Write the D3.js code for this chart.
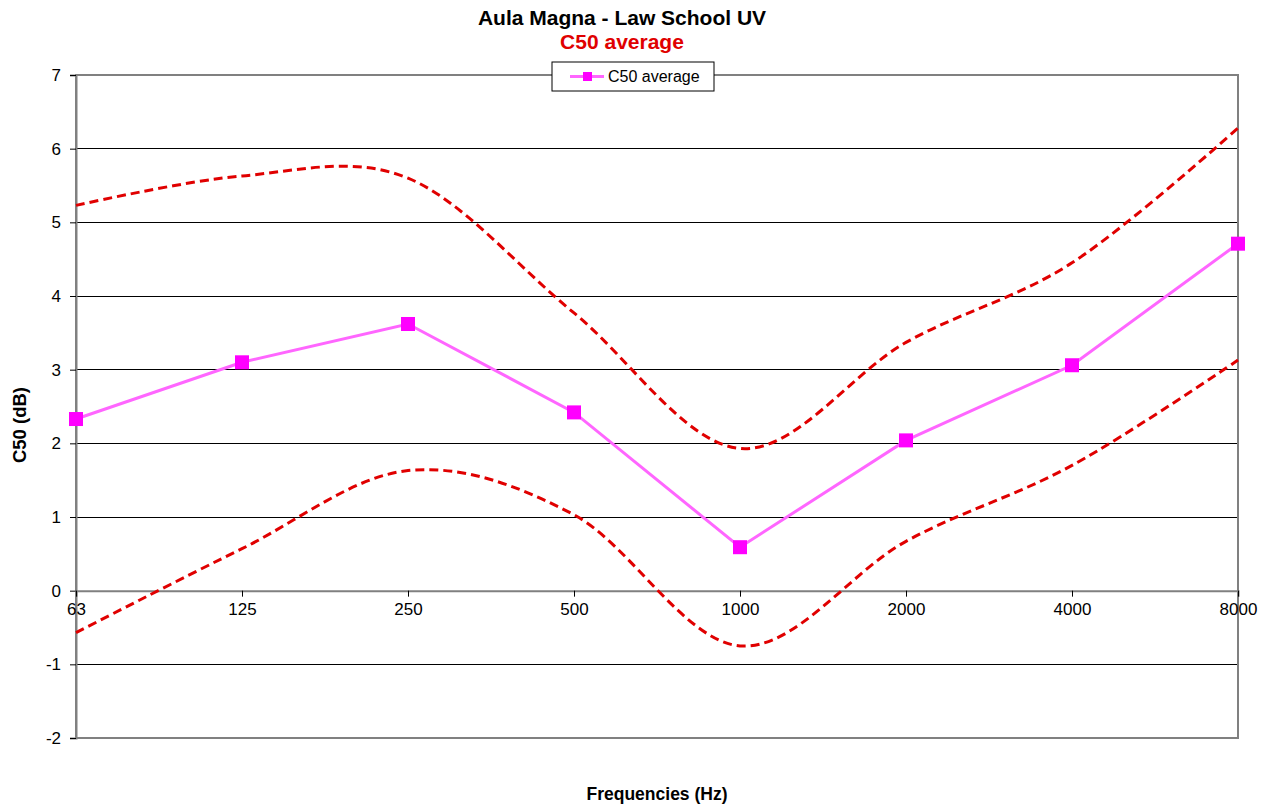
<!DOCTYPE html>
<html>
<head>
<meta charset="utf-8">
<script src="https://cdn.jsdelivr.net/npm/d3@7"></script>
<style>
  html, body { margin: 0; padding: 0; background: #fff; }
  svg { display: block; font-family: "Liberation Sans", Arial, sans-serif; }
</style>
</head>
<body>
<svg id="chart" width="1273" height="805"></svg>
<script>
// Octave-band centre frequencies
const frequencies = ["63", "125", "250", "500", "1000", "2000", "4000", "8000"];
// Mean C50 per band (dB)
const c50Average = [2.33, 3.10, 3.62, 2.42, 0.59, 2.04, 3.06, 4.71];
// Upper and lower limits of the band around the mean (dB)
const upperLimit = [5.23, 5.63, 5.60, 3.77, 1.93, 3.37, 4.45, 6.28];
const lowerLimit = [-0.57, 0.57, 1.63, 1.03, -0.75, 0.67, 1.70, 3.13];
// Y axis tick values
const yTicks = [-2, -1, 0, 1, 2, 3, 4, 5, 6, 7];

const svg = d3.select("#chart");
const plot = { left: 76, right: 1238, top: 75, bottom: 738 };
const FONT = "Liberation Sans, Arial, sans-serif";

const x = d3.scalePoint().domain(frequencies).range([plot.left, plot.right]);
const y = d3.scaleLinear().domain([-2, 7]).range([plot.bottom, plot.top]);

// Horizontal gridlines
svg.append("g")
  .selectAll("line")
  .data(yTicks.filter(v => v !== -2 && v !== 7 && v !== 0))
  .join("line")
  .attr("x1", plot.left).attr("x2", plot.right)
  .attr("y1", d => y(d)).attr("y2", d => y(d))
  .attr("stroke", "#000").attr("stroke-width", 1)
  .attr("shape-rendering", "crispEdges");

// Plot frame
svg.append("rect")
  .attr("x", plot.left).attr("y", plot.top)
  .attr("width", plot.right - plot.left).attr("height", plot.bottom - plot.top)
  .attr("fill", "none").attr("stroke", "#808080").attr("stroke-width", 2);

// Y axis
const yAxis = d3.axisLeft(y).tickValues(yTicks).tickSize(6).tickPadding(9)
  .tickFormat(d => String(d));
svg.append("g")
  .attr("transform", `translate(${plot.left},0)`)
  .call(yAxis)
  .call(g => g.attr("font-size", 17).attr("font-family", FONT))
  .call(g => g.select(".domain").attr("stroke", "#808080").attr("stroke-width", 2))
  .call(g => g.selectAll(".tick line").attr("stroke", "#000"))
  .call(g => g.selectAll(".tick text").attr("fill", "#000"));

// X axis sits on the zero line
const xAxis = d3.axisBottom(x).tickSize(6).tickPadding(6);
svg.append("g")
  .attr("transform", `translate(0,${y(0)})`)
  .call(xAxis)
  .call(g => g.attr("font-size", 17).attr("font-family", FONT))
  .call(g => g.select(".domain").attr("stroke", "#808080").attr("stroke-width", 2))
  .call(g => g.selectAll(".tick line").attr("stroke", "#000"))
  .call(g => g.selectAll(".tick text").attr("fill", "#000"));

// Smoothed dashed limit curves
const smooth = d3.line()
  .x((d, i) => x(frequencies[i]))
  .y(d => y(d))
  .curve(d3.curveCardinal.tension(0));

[upperLimit, lowerLimit].forEach(series => {
  svg.append("path")
    .datum(series)
    .attr("d", smooth)
    .attr("fill", "none")
    .attr("stroke", "#e00000")
    .attr("stroke-width", 3)
    .attr("stroke-dasharray", "9,5");
});

// Mean line with square markers
const straight = d3.line()
  .x((d, i) => x(frequencies[i]))
  .y(d => y(d));

svg.append("path")
  .datum(c50Average)
  .attr("d", straight)
  .attr("fill", "none")
  .attr("stroke", "#ff66ff")
  .attr("stroke-width", 3);

const m = 14;
svg.append("g")
  .selectAll("rect")
  .data(c50Average)
  .join("rect")
  .attr("x", (d, i) => x(frequencies[i]) - m / 2)
  .attr("y", d => y(d) - m / 2)
  .attr("width", m).attr("height", m)
  .attr("fill", "#ff00ff");

// Titles
svg.append("text")
  .attr("x", 622).attr("y", 25)
  .attr("text-anchor", "middle")
  .attr("font-size", 21).attr("font-weight", "bold").attr("fill", "#000")
  .text("Aula Magna - Law School UV");
svg.append("text")
  .attr("x", 622).attr("y", 49)
  .attr("text-anchor", "middle")
  .attr("font-size", 21).attr("font-weight", "bold").attr("fill", "#e00000")
  .text("C50 average");

// Axis titles
svg.append("text")
  .attr("x", 657).attr("y", 800)
  .attr("text-anchor", "middle")
  .attr("font-size", 17.5).attr("font-weight", "bold").attr("fill", "#000")
  .text("Frequencies (Hz)");
svg.append("text")
  .attr("transform", "translate(26,425) rotate(-90)")
  .attr("text-anchor", "middle")
  .attr("font-size", 18.5).attr("font-weight", "bold").attr("fill", "#000")
  .text("C50 (dB)");

// Legend
const legend = svg.append("g").attr("transform", "translate(552,62)");
legend.append("rect")
  .attr("width", 162).attr("height", 29)
  .attr("fill", "#fff").attr("stroke", "#000").attr("stroke-width", 1);
legend.append("line")
  .attr("x1", 18).attr("x2", 52).attr("y1", 14.5).attr("y2", 14.5)
  .attr("stroke", "#ff66ff").attr("stroke-width", 3);
legend.append("rect")
  .attr("x", 31).attr("y", 10).attr("width", 9).attr("height", 9)
  .attr("fill", "#ff00ff");
legend.append("text")
  .attr("x", 56).attr("y", 20)
  .attr("font-size", 16).attr("fill", "#000")
  .text("C50 average");
</script>
</body>
</html>
